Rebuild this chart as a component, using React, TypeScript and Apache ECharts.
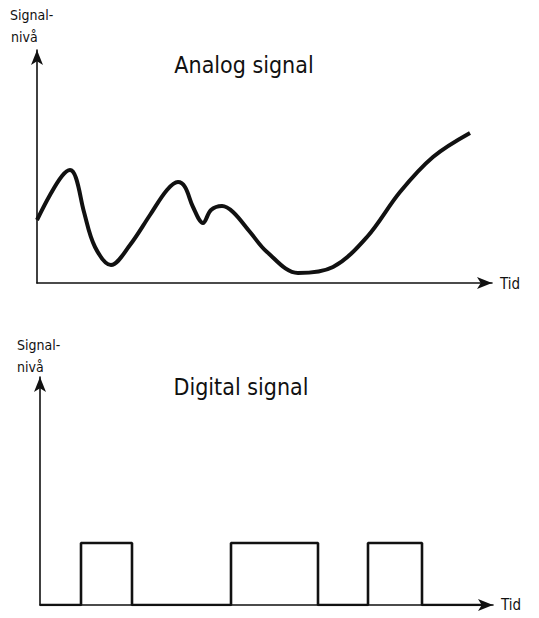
import React, { useEffect, useRef } from "react";
import * as echarts from "echarts";

// Analog signal: time (x) and level (y)
const analogTime = [0, 13, 25, 33, 39, 47, 58, 74, 93, 113, 130, 141, 148, 156, 166, 174, 185, 196, 213, 230, 261, 296, 330, 363, 396, 433];
const analogLevel = [63, 88, 107, 113, 105, 71, 36, 18, 38, 68, 93, 101, 96, 76, 60, 73, 77, 71, 51, 31, 10, 16, 46, 91, 126, 150];

// Digital signal: transition times and levels (0 = low, 1 = high)
const digitalTime = [0, 41, 92, 191, 278, 328, 382, 445];
const digitalLevel = [0, 1, 0, 1, 0, 1, 0, 0];

const yLabel = ["Signal-", "nivå"];
const xLabel = "Tid";
const titles = ["Analog signal", "Digital signal"];

const FONT = "'DejaVu Sans Condensed', 'DejaVu Sans', sans-serif";

export default function App() {
  const ref = useRef<HTMLDivElement>(null);
  useEffect(() => {
    if (!ref.current) return;
    const chart = echarts.init(ref.current, undefined, { renderer: "svg" });
    const axisLine = {
      show: true,
      symbol: ["none", "arrow"],
      symbolSize: [9, 15],
      lineStyle: { color: "#111", width: 1.6 },
    };
    const hidden = {
      axisTick: { show: false },
      axisLabel: { show: false },
      splitLine: { show: false },
    };
    const txt = (x: number, y: number, text: string, size: number, align = "left") => ({
      type: "text",
      x,
      y,
      style: {
        text,
        fontSize: size,
        fontFamily: FONT,
        fill: "#111",
        textAlign: align,
        textVerticalAlign: "middle",
      },
    });
    chart.setOption({
      animation: false,
      backgroundColor: "#fff",
      grid: [
        { left: 37, top: 50, width: 455, height: 233 },
        { left: 40, top: 377, width: 453, height: 228 },
      ],
      xAxis: [
        { type: "value", gridIndex: 0, min: 0, max: 455, axisLine, ...hidden },
        { type: "value", gridIndex: 1, min: 0, max: 453, axisLine, ...hidden },
      ],
      yAxis: [
        { type: "value", gridIndex: 0, min: 0, max: 233, axisLine, ...hidden },
        { type: "value", gridIndex: 1, min: 0, max: 3.68, axisLine, ...hidden },
      ],
      series: [
        {
          type: "line",
          xAxisIndex: 0,
          yAxisIndex: 0,
          data: analogTime.map((t, i) => [t, analogLevel[i]]),
          smooth: 0.35,
          showSymbol: false,
          lineStyle: { color: "#111", width: 4 },
        },
        {
          type: "line",
          xAxisIndex: 1,
          yAxisIndex: 1,
          data: digitalTime.map((t, i) => [t, digitalLevel[i]]),
          step: "end",
          showSymbol: false,
          lineStyle: { color: "#111", width: 2.6 },
        },
      ],
      graphic: [
        txt(10, 15, yLabel[0], 14),
        txt(11, 37, yLabel[1], 14),
        txt(244, 65, titles[0], 23, "center"),
        txt(500, 284, xLabel, 15),
        txt(17, 345, yLabel[0], 14),
        txt(17, 367, yLabel[1], 14),
        txt(241, 387, titles[1], 23, "center"),
        txt(501, 605, xLabel, 15),
      ],
    });
    return () => chart.dispose();
  }, []);
  return (
    <div
      ref={ref}
      style={{ position: "fixed", left: 0, top: 0, width: 539, height: 618, background: "#fff" }}
    />
  );
}
